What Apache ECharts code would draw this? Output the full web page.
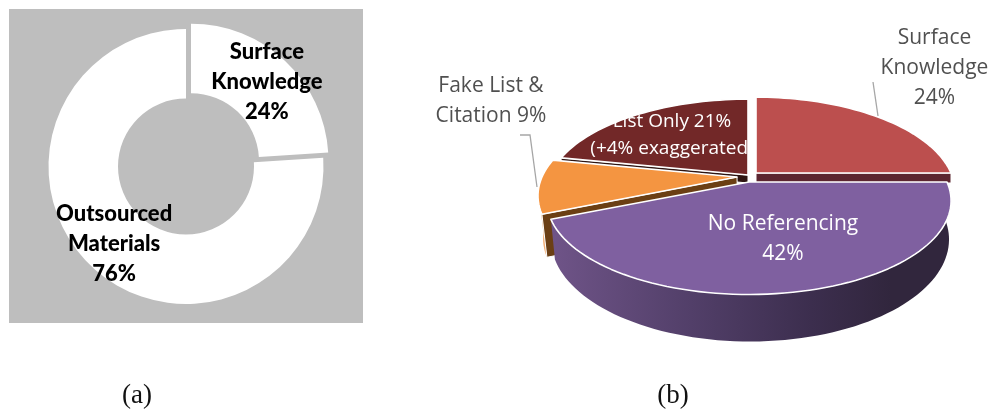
<!DOCTYPE html>
<html><head><meta charset="utf-8">
<style>html,body{margin:0;padding:0;background:#fff}#c{width:990px;height:410px}</style>
<script src="https://cdn.jsdelivr.net/npm/echarts@6/dist/echarts.min.js"></script>
</head><body><div id="c"></div>
<script>
const donutNames = ['Surface\nKnowledge\n24%', 'Outsourced\nMaterials\n76%'];
const donutValues = [24, 76];
const pieNames = ['Surface Knowledge', 'No Referencing', 'Fake List & Citation', 'List Only'];
const pieValues = [24, 42, 9, 21];
const pieLabels = ['Surface\nKnowledge\n24%', 'No Referencing\n42%', 'Fake List &\nCitation 9%', 'List Only 21%\n(+4% exaggerated)'];

// style and layout of each slice of the perspective pie (in pie order)
const K = 0.2;
const looks = [
  {top:'#BC4F4E', cut:'#5C2630', apex:[756,173], ax:195, ay:91, z:1, cutDepth:10,
   lab:[934.5,68], labColor:'#505050', size:21, lh:30},
  {top:'#7F60A0', wall:{type:'linear',x:0,y:0,x2:1,y2:0,colorStops:[{offset:0,color:'#6F5488'},{offset:.35,color:'#523F69'},{offset:.65,color:'#3C2E4E'},{offset:.85,color:'#31263D'},{offset:1,color:'#31263D'}]},
   apex:[749,182], ax:198, ay:90, base:[750,219], bx:195, by:98, z:4, wallTo:247.5, wallFrom:90,
   lab:[783,239], labColor:'#fff', size:21, lh:30},
  {top:'#F49541', cut:'#6B3F14', wallC:'#F3AE74', apex:[737,177], ax:195, ay:90, base:[738,220], bx:191, by:90, z:3, cutDepth:43, wallFrom:247.5, wallTo:262, cutBase:true,
   lab:[491,101], labColor:'#505050', size:21, lh:30},
  {top:'#722828', cut:'#2E1512', apex:[748,175], ax:198, ay:91, z:2, cutDepth:8, cutAt:'start',
   lab:[672,135], labColor:'#fff', size:19, lh:27}
];

function project(c, ax, ay, deg){
  const t = deg*Math.PI/180, X = Math.sin(t), Y = -Math.cos(t), d = 1-K*Y;
  return [c[0]+ax*X/d, c[1]+ay*Y/d];
}
function arc(c, ax, ay, a, b){
  const pts = [], n = Math.max(2, Math.ceil(Math.abs(b-a)/2));
  for(let i=0;i<=n;i++) pts.push(project(c,ax,ay,a+(b-a)*i/n));
  return pts;
}

const total = pieValues.reduce((s,v)=>s+v,0);

function renderSlice(params, api){
  const i = params.dataIndex, L = looks[i];
  let start = 0;
  for(let j=0;j<i;j++) start += pieValues[j];
  const a0 = start/total*360, a1 = (start+api.value(0))/total*360;
  const kids = [];
  const rim = arc(L.apex,L.ax,L.ay,a0,a1);
  if(L.wall){
    const pts = arc(L.apex,L.ax,L.ay,L.wallFrom,L.wallTo).concat(arc(L.base,L.bx,L.by,L.wallTo,L.wallFrom));
    kids.push({type:'polygon',z2:L.z*10,shape:{points:pts},style:{fill:L.wall}});
  }
  if(L.wallC){
    const pts = arc(L.apex,L.ax,L.ay,L.wallFrom,L.wallTo).concat(arc(L.base,L.bx,L.by,L.wallTo,L.wallFrom));
    kids.push({type:'polygon',z2:L.z*10,shape:{points:pts},style:{fill:L.wallC}});
  }
  if(L.cut){
    let pts;
    if(L.cutBase){
      const e = project(L.apex,L.ax,L.ay,a0), eb = project(L.base,L.bx,L.by,a0);
      pts = [L.apex,e,eb,[L.apex[0]+1,L.apex[1]+L.cutDepth]];
    } else {
      const e = project(L.apex,L.ax,L.ay,L.cutAt==='start'?a0:a1);
      pts = [L.apex,e,[e[0],e[1]+L.cutDepth],[L.apex[0],L.apex[1]+L.cutDepth]];
    }
    kids.push({type:'polygon',z2:L.z*10+1,shape:{points:pts},style:{fill:L.cut,stroke:'#fff',lineWidth:1}});
  }
  kids.push({type:'polygon',z2:L.z*10+2,shape:{points:[L.apex].concat(rim)},
    style:{fill:L.top,stroke:'#fff',lineWidth:1.6,lineJoin:'round'}});
  kids.push({type:'text',z2:100,x:L.lab[0],y:L.lab[1],
    style:{text:pieLabels[i],fill:L.labColor,font:L.size+'px "Open Sans"',align:'center',verticalAlign:'middle',lineHeight:L.lh}});
  return {type:'group',children:kids};
}

const chart = echarts.init(document.getElementById('c'),null,{renderer:'canvas'});
chart.setOption({
  animation:false,
  backgroundColor:'#fff',
  graphic:[
    {type:'rect',z:0,shape:{x:9,y:9,width:354,height:314},style:{fill:'#BEBEBE'},silent:true},
    {type:'polyline',z:1,shape:{points:[[873,82],[878,116]]},style:{stroke:'#A6A6A6',lineWidth:1.3,fill:null},silent:true},
    {type:'polyline',z:1,shape:{points:[[520,135],[530,135],[537,187]]},style:{stroke:'#A6A6A6',lineWidth:1.3,fill:null},silent:true},
    {type:'text',z:5,x:137,y:396,style:{text:'(a)',fill:'#111',font:'27px "Liberation Serif"',align:'center',verticalAlign:'middle'}},
    {type:'text',z:5,x:673,y:396,style:{text:'(b)',fill:'#111',font:'27px "Liberation Serif"',align:'center',verticalAlign:'middle'}}
  ],
  series:[
    {
      type:'pie',
      center:[186,166.5],
      radius:[68,137.5],
      startAngle:90,
      clockwise:true,
      silent:true,
      selectedMode:'single',
      selectedOffset:7.3,
      avoidLabelOverlap:false,
      itemStyle:{color:'#fff'},
      select:{itemStyle:{color:'#fff'}},
      labelLine:{show:false},
      label:{show:true,position:'inside',color:'#000',fontFamily:'Lato',fontWeight:900,fontSize:22,lineHeight:30},
      labelLayout:function(p){ return p.dataIndex===0 ? {dx:3.5,dy:-2} : {dx:0.5,dy:0}; },
      data:donutValues.map((v,i)=>({
        name:donutNames[i],value:v,selected:i===0,
        label:{formatter:donutNames[i]}
      }))
    },
    {
      type:'custom',
      coordinateSystem:'none',
      silent:true,
      z:3,
      renderItem:renderSlice,
      data:pieValues.map((v,i)=>({name:pieNames[i],value:[v]}))
    }
  ]
});
</script></body></html>
